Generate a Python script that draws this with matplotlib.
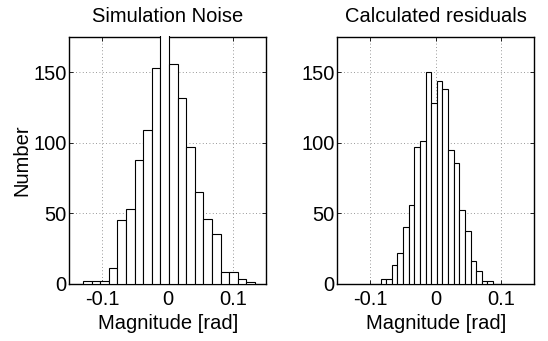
import numpy as np
import matplotlib
matplotlib.use("Agg")
import matplotlib.pyplot as plt
from matplotlib.patches import Rectangle

# ---- data ----
titles = ["Simulation Noise", "Calculated residuals"]
xlabel = "Magnitude [rad]"
ylabel = "Number"

# left histogram: 20 equal bins between these limits
noise_range = (-0.129, 0.1327)
noise_counts = [2, 2, 2, 11, 45, 53, 88, 109, 153, 184,
                156, 132, 97, 65, 46, 35, 8, 8, 3, 1]

# right histogram: 20 equal bins between these limits
resid_range = (-0.0842, 0.0872)
resid_counts = [3, 3, 13, 22, 40, 56, 97, 101, 150, 128,
                144, 138, 95, 86, 52, 37, 16, 9, 2, 2]

xticks = [-0.1, 0.0, 0.1]
xticklabels = ["-0.1", "0", "0.1"]
yticks = [0, 50, 100, 150]
xlim = (-0.15, 0.15)
ylim = (0, 175)

plt.rcParams['font.family'] = ['Liberation Sans', 'DejaVu Sans']
FS = 14.5

fig = plt.figure(figsize=(5.48, 3.41), dpi=100)
ax1 = fig.add_axes([0.1265, 0.1686, 0.3595, 0.722])
ax2 = fig.add_axes([0.6155, 0.1686, 0.3595, 0.722])

for ax, title, rng, counts in [(ax1, titles[0], noise_range, noise_counts),
                               (ax2, titles[1], resid_range, resid_counts)]:
    edges = np.linspace(rng[0], rng[1], len(counts) + 1)
    bars = ax.bar(edges[:-1], counts, width=np.diff(edges), align='edge',
                  facecolor='white', edgecolor='black', linewidth=0.8,
                  zorder=3)
    clip = Rectangle((0, 0), 1, 1.006, transform=ax.transAxes)
    for b in bars:
        b.set_clip_path(clip)
    ax.set_xlim(*xlim)
    ax.set_ylim(*ylim)
    ax.set_xticks(xticks)
    ax.set_xticklabels(xticklabels)
    ax.set_yticks(yticks)
    ax.grid(True, linestyle=(0, (1, 3)), color='#777777', linewidth=0.6, zorder=0)
    ax.set_axisbelow(True)
    ax.tick_params(direction='in', length=3, width=0.6, top=True, right=True,
                   labelsize=FS)
    ax.tick_params(axis='x', pad=5)
    ax.tick_params(axis='y', pad=2)
    for sp in ax.spines.values():
        sp.set_linewidth(1.0)
        sp.set_zorder(2.5)
    ax.set_title(title, fontsize=FS, pad=11)
    ax.set_xlabel(xlabel, fontsize=FS, labelpad=3)

ax1.set_ylabel(ylabel, fontsize=FS, labelpad=1)

fig.savefig("out.png", dpi=100)
